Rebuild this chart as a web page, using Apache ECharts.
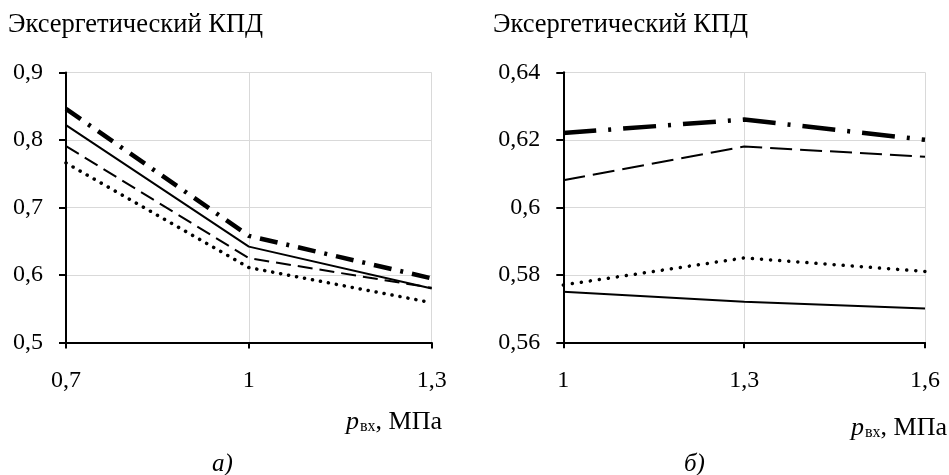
<!DOCTYPE html>
<html>
<head>
<meta charset="utf-8">
<script src="https://cdn.jsdelivr.net/npm/echarts@6/dist/echarts.min.js"></script>
<style>
  html, body { margin: 0; padding: 0; background: #fff; }
  #chart { width: 949px; height: 475px; }
</style>
</head>
<body>
<div id="chart"></div>
<script>
// а) — left panel
const xLeft = ['0,7', '1', '1,3']
const leftSolid = [0.822, 0.642, 0.580]
const leftDashed = [0.791, 0.625, 0.581]
const leftDotted = [0.766, 0.611, 0.559]
const leftDashDot = [0.846, 0.658, 0.595]
const yLeftMin = 0.5
const yLeftMax = 0.9
const yLeftStep = 0.1

// б) — right panel
const xRight = ['1', '1,3', '1,6']
const rightSolid = [0.575, 0.572, 0.570]
const rightDashed = [0.608, 0.618, 0.615]
const rightDotted = [0.577, 0.585, 0.581]
const rightDashDot = [0.622, 0.626, 0.620]
const yRightMin = 0.56
const yRightMax = 0.64
const yRightStep = 0.02

const yTitle = 'Эксергетический КПД'
const captions = ['а)', 'б)']

const FONT = 'Liberation Serif'
const comma = v => String(+v.toFixed(3)).replace('.', ',')

function xAxisOf(idx, cats) {
  return {
    type: 'category',
    gridIndex: idx,
    data: cats,
    boundaryGap: false,
    axisLine: { lineStyle: { color: '#000', width: 2 } },
    axisTick: { show: true, alignWithLabel: true, length: 6, lineStyle: { color: '#000', width: 2 } },
    axisLabel: { color: '#000', fontFamily: FONT, fontSize: 24, margin: 26 },
    splitLine: { show: true, lineStyle: { color: '#d9d9d9', width: 1 } }
  }
}

function yAxisOf(idx, min, max, step) {
  return {
    type: 'value',
    gridIndex: idx,
    min: min,
    max: max,
    interval: step,
    axisLine: { show: true, lineStyle: { color: '#000', width: 2 } },
    axisTick: { show: true, length: 7, lineStyle: { color: '#000', width: 2 } },
    axisLabel: { color: '#000', fontFamily: FONT, fontSize: 24, margin: 23, formatter: comma },
    splitLine: { show: true, lineStyle: { color: '#d9d9d9', width: 1 } }
  }
}

function line(idx, data, width, type, cap) {
  return {
    type: 'line',
    xAxisIndex: idx,
    yAxisIndex: idx,
    data: data,
    showSymbol: false,
    symbol: 'none',
    silent: true,
    lineStyle: { color: '#000', width: width, type: type, cap: cap || 'butt' }
  }
}

function axisName(right, bottom) {
  return {
    type: 'text',
    right: right,
    bottom: bottom,
    style: {
      text: '{p|p}{s|вх}{n|, МПа}',
      rich: {
        p: { fontFamily: FONT, fontSize: 26, fontStyle: 'italic', fill: '#000' },
        s: { fontFamily: FONT, fontSize: 16, fill: '#000', verticalAlign: 'bottom', padding: [0, 0, 0, 1] },
        n: { fontFamily: FONT, fontSize: 26, fill: '#000' }
      }
    }
  }
}

const chart = echarts.init(document.getElementById('chart'))
chart.setOption({
  animation: false,
  backgroundColor: '#fff',
  title: [
    { text: yTitle, left: 8, top: 12, padding: 0, textStyle: { fontFamily: FONT, fontSize: 26.5, fontWeight: 'normal', color: '#000' } },
    { text: yTitle, left: 493, top: 12, padding: 0, textStyle: { fontFamily: FONT, fontSize: 26.5, fontWeight: 'normal', color: '#000' } }
  ],
  grid: [
    { left: 66, top: 72.5, width: 365.7, height: 270, containLabel: false },
    { left: 563.3, top: 72.3, width: 361.7, height: 270, containLabel: false }
  ],
  xAxis: [xAxisOf(0, xLeft), xAxisOf(1, xRight)],
  yAxis: [
    yAxisOf(0, yLeftMin, yLeftMax, yLeftStep),
    yAxisOf(1, yRightMin, yRightMax, yRightStep)
  ],
  series: [
    line(0, leftDotted, 3.5, [0.1, 8], 'round'),
    line(0, leftDashed, 2, [15, 7]),
    line(0, leftSolid, 2, 'solid'),
    line(0, leftDashDot, 4.5, [18, 9, 3, 9]),
    line(1, rightDotted, 3.5, [0.1, 9], 'round'),
    line(1, rightDashed, 2, [22, 8]),
    line(1, rightSolid, 2, 'solid'),
    line(1, rightDashDot, 4.5, [33, 12, 3, 12])
  ],
  graphic: [
    axisName(507, 40),
    axisName(2, 34),
    {
      type: 'text', left: 212, bottom: -2,
      style: { text: captions[0], fontFamily: FONT, fontSize: 25, fontStyle: 'italic', fill: '#000' }
    },
    {
      type: 'text', left: 684, bottom: -2,
      style: { text: captions[1], fontFamily: FONT, fontSize: 25, fontStyle: 'italic', fill: '#000' }
    }
  ]
})

window.addEventListener('resize', () => chart.resize())
</script>
</body>
</html>
